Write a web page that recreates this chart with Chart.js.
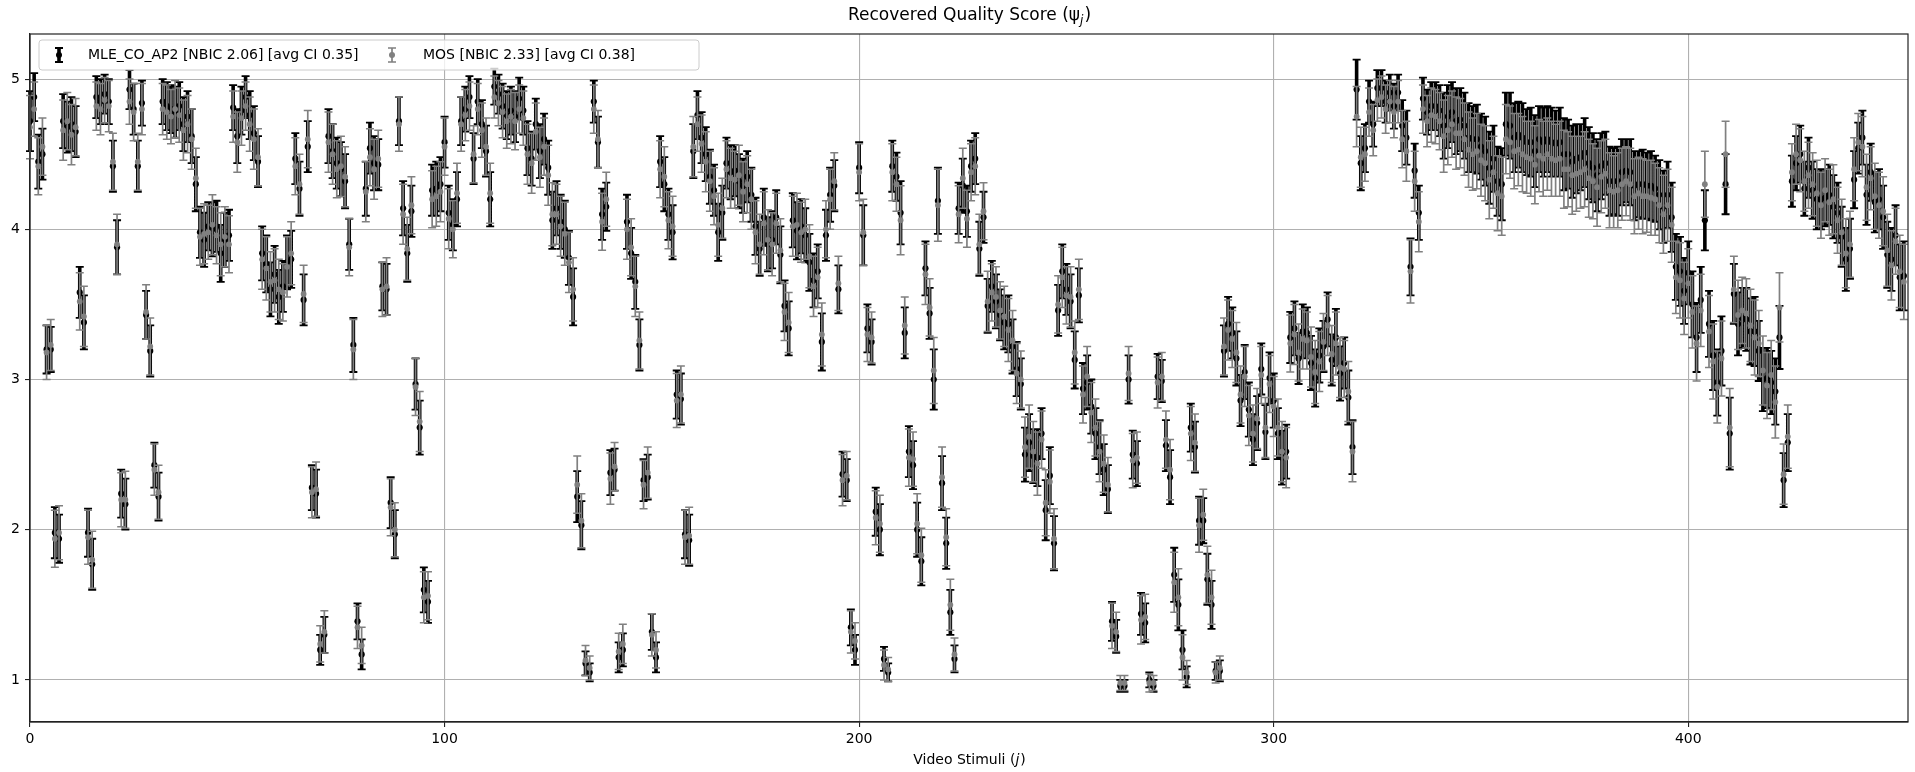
<!DOCTYPE html>
<html lang="en">
<head>
<meta charset="UTF-8">
<title>Recovered Quality Score</title>
<script src="https://cdn.jsdelivr.net/npm/chart.js"></script>
<style>
  html, body { margin: 0; padding: 0; background: #fff; }
  #wrap { width: 1915px; height: 772px; }
</style>
</head>
<body>
<div id="wrap"><canvas id="chart" width="1915" height="772"></canvas></div>
<script>
// recovered scores per video stimulus j = 0..452
const mle = [
  4.72,4.88,4.45,4.5,3.2,3.2,1.98,1.94,4.72,4.68, 4.7,4.65,3.58,3.38,1.98,1.77,4.88,4.85,4.9,4.85,
  4.42,3.88,2.24,2.17,4.93,4.8,4.42,4.84,3.43,3.19, 2.43,2.22,4.85,4.82,4.8,4.78,4.82,4.7,
  4.75,4.62,4.3,3.98,3.93,4.02,4.0,4.02,3.84,3.93, 3.96,4.81,4.62,4.79,4.88,4.76,4.64,4.45,3.84,3.77,
  3.6,3.7,3.55,3.62,3.78,3.8,4.47,4.27,3.53,4.55, 2.28,2.24,1.2,1.3,4.62,4.52,4.44,4.4,
  4.32,3.9,3.23,1.39,1.17,4.27,4.54,4.44,4.43,3.62, 3.6,2.18,1.97,4.72,4.14,3.84,4.12,2.97,2.68,1.6,
  1.52,4.26,4.27,4.3,4.58,4.11,4.03,4.2,4.72,4.8, 4.88,4.47,4.85,4.7,4.52,4.2,4.95,4.9,
  4.82,4.76,4.79,4.75,4.87,4.79,4.54,4.47,4.7,4.52, 4.6,4.41,4.06,4.14,4.05,4.0,3.81,3.55,2.22,2.03,
  1.11,1.05,4.85,4.58,4.1,4.15,2.38,2.4,1.15,1.2, 4.05,3.84,3.65,3.23,2.33,2.35,1.32,1.15,
  4.45,4.3,4.1,3.98,2.9,2.87,1.97,1.93,4.52,4.76, 4.61,4.5,4.35,4.26,3.98,4.11,4.44,4.38,4.39,4.32,
  4.29,4.35,4.23,4.02,3.87,4.08,3.9,3.93,4.08,3.83, 3.49,3.34,4.06,3.99,4.02,3.96,3.78,3.66,
  3.72,3.25,3.96,4.23,4.29,3.6,2.37,2.33,1.35,1.2, 4.41,3.96,3.34,3.25,2.12,2.0,1.14,1.05,4.42,4.35,
  4.11,3.31,2.52,2.43,2.0,1.79,3.74,3.44,3.0,4.19, 2.31,1.91,1.45,1.14,4.14,4.29,4.12,4.42,
  4.47,3.87,4.08,3.49,3.62,3.52,3.43,3.38,3.37,3.22, 3.07,2.97,2.5,2.58,2.49,2.48,2.64,2.13,2.36,1.91,
  3.46,3.72,3.6,3.52,3.13,3.56,2.94,2.98,2.82,2.64, 2.55,2.4,2.27,1.39,1.29,0.96,0.96,
  3.0,2.5,2.44,1.44,1.38,1.0,0.96,3.02,2.99,2.56, 2.35,1.7,1.5,1.2,1.02,2.68,2.55,2.06,2.06,1.67,
  1.5,1.06,1.06,3.19,3.37,3.31,3.14,2.86,3.05,2.8, 2.6,2.71,3.07,2.65,3.01,2.86,2.64,2.48,
  2.52,3.28,3.34,3.14,3.32,3.31,3.11,3.01,3.16,3.22, 3.4,3.13,3.28,3.04,3.11,2.88,2.55,4.93,4.44,4.54,
  4.85,4.7,4.94,4.94,4.85,4.91,4.82,4.91,4.69,4.61, 3.75,4.39,4.11,4.87,4.78,4.82,4.82,4.79,
  4.69,4.75,4.78,4.72,4.73,4.69,4.61,4.6,4.6,4.55, 4.52,4.41,4.47,4.32,4.3,4.7,4.69,4.61,4.63,4.61,
  4.58,4.58,4.52,4.6,4.58,4.6,4.58,4.57,4.58,4.5, 4.5,4.45,4.47,4.48,4.51,4.44,4.41,4.36,
  4.42,4.44,4.32,4.32,4.32,4.38,4.39,4.38,4.29,4.3, 4.3,4.29,4.29,4.27,4.23,4.15,4.23,4.08,3.75,3.72,
  3.59,3.71,3.5,3.28,3.53,4.06,3.37,3.16,2.98,3.19, 4.3,2.64,3.57,3.37,3.41,3.4,3.32,3.32,
  3.19,3.0,3.01,2.98,2.92,3.28,2.33,2.58,4.32,4.44, 4.5,4.27,4.41,4.26,4.2,4.2,4.21,4.23,4.15,4.11,
  3.95,3.8,3.87,4.33,4.54,4.61,4.23,4.38,4.18,4.2, 4.08,3.83,3.8,3.96,3.68,3.69
];
// half width of the confidence interval
const mleErr = [
  .20,.16,.18,.17,.16,.15,.17,.16,.18,.17, .18,.17,.17,.18,.16,.17,.14,.15,.13,.15,
  .17,.18,.16,.17,.13,.17,.17,.15,.16,.17, .15,.16,.15,.16,.16,.17,.16,.18,
  .17,.18,.18,.17,.18,.16,.18,.17,.19,.18, .17,.15,.18,.16,.14,.16,.18,.17,.18,.19,
  .18,.19,.18,.17,.18,.19,.17,.18,.17,.17, .15,.16,.10,.12,.18,.18,.17,.18,
  .18,.17,.18,.12,.10,.18,.17,.18,.17,.16, .17,.17,.16,.16,.18,.19,.17,.17,.18,.15,
  .14,.17,.18,.18,.17,.18,.17,.18,.16,.15, .14,.17,.15,.16,.17,.18,.12,.13,
  .15,.16,.16,.17,.14,.16,.18,.18,.17,.18, .17,.18,.19,.18,.18,.19,.18,.19,.17,.16,
  .08,.06,.14,.17,.17,.16,.15,.14,.10,.11, .18,.17,.18,.17,.14,.15,.12,.10,
  .17,.18,.17,.18,.16,.17,.16,.17,.18,.16, .17,.18,.18,.17,.19,.18,.17,.18,.17,.18,
  .18,.17,.18,.19,.18,.19,.18,.19,.18,.19, .17,.18,.18,.19,.18,.18,.19,.18,
  .18,.19,.17,.18,.17,.16,.15,.14,.12,.10, .17,.20,.16,.15,.16,.17,.08,.06,.17,.16,
  .21,.17,.17,.16,.18,.16,.18,.17,.20,.22, .18,.17,.15,.09,.17,.18,.17,.17,
  .17,.18,.17,.18,.17,.18,.17,.18,.19,.18, .18,.17,.18,.19,.18,.19,.17,.20,.19,.18,
  .17,.18,.17,.18,.19,.18,.17,.18,.18,.17, .18,.17,.16,.13,.11,.04,.04,
  .16,.16,.15,.14,.13,.05,.04,.15,.14,.17, .18,.18,.17,.13,.07,.16,.17,.16,.15,.17,
  .16,.06,.07,.17,.18,.17,.18,.17,.18,.18, .17,.18,.17,.18,.17,.18,.17,.18,
  .18,.17,.18,.17,.18,.17,.18,.19,.18,.17, .18,.17,.19,.18,.17,.18,.18,.20,.18,.16,
  .14,.15,.12,.12,.14,.12,.15,.12,.17,.18, .19,.18,.18,.14,.15,.16,.16,.17,
  .22,.21,.20,.22,.21,.22,.23,.22,.23,.22, .23,.24,.22,.23,.24,.21,.22,.23,.22,.23,
  .22,.23,.24,.22,.23,.22,.23,.22,.23,.24, .23,.24,.23,.22,.23,.24,.23,.24,
  .22,.21,.23,.22,.23,.22,.21,.22,.23,.22, .23,.22,.23,.22,.23,.24,.22,.23,.22,.23,
  .22,.21,.22,.23,.22,.20,.22,.23,.22,.23, .20,.24,.20,.21,.20,.21,.22,.23,
  .20,.21,.20,.21,.22,.21,.18,.19,.17,.18, .19,.18,.20,.19,.20,.20,.19,.20,.21,.20,
  .20,.21,.20,.19,.17,.18,.20,.19,.20,.20, .21,.22,.21,.20,.22,.23
];
const mos = [
  4.68,4.8,4.42,4.55,3.18,3.23,1.94,1.98,4.66,4.72, 4.63,4.68,3.52,3.42,1.95,1.8,4.82,4.8,4.86,4.82,
  4.45,3.9,2.2,2.2,4.85,4.78,4.45,4.8,3.45,3.22, 2.4,2.25,4.8,4.78,4.75,4.8,4.76,4.66,
  4.7,4.6,4.34,3.95,3.97,3.98,4.03,3.96,3.9,3.95, 3.9,4.75,4.58,4.74,4.82,4.7,4.6,4.48,3.8,3.74,
  3.65,3.66,3.6,3.58,3.75,3.84,4.42,4.3,3.57,4.6, 2.25,2.27,1.24,1.32,4.58,4.5,4.4,4.42,
  4.35,3.88,3.2,1.35,1.23,4.25,4.48,4.4,4.47,3.6, 3.62,2.15,2.0,4.7,4.1,3.87,4.16,2.95,2.72,1.55,
  1.56,4.2,4.22,4.25,4.55,4.07,4.0,4.24,4.7,4.76, 4.82,4.5,4.8,4.66,4.55,4.24,4.88,4.84,
  4.78,4.72,4.75,4.72,4.8,4.74,4.5,4.44,4.65,4.48, 4.55,4.36,4.1,4.1,4.02,3.97,3.78,3.6,2.3,2.06,
  1.13,1.08,4.8,4.6,4.05,4.2,2.34,2.42,1.19,1.24, 4.0,3.88,3.62,3.26,2.3,2.38,1.3,1.2,
  4.4,4.35,4.06,4.02,2.86,2.9,1.95,1.96,4.55,4.7, 4.57,4.45,4.32,4.22,4.03,4.14,4.4,4.34,4.33,4.36,
  4.25,4.3,4.2,3.98,3.9,4.04,3.93,3.9,4.04,3.86, 3.45,3.38,4.02,4.03,3.98,4.0,3.82,3.62,
  3.68,3.3,4.0,4.2,4.32,3.64,2.33,2.36,1.32,1.26, 4.38,3.98,3.3,3.28,2.08,2.04,1.1,1.07,4.38,4.3,
  4.06,3.36,2.48,2.47,2.04,1.83,3.7,3.48,3.06,4.16, 2.35,1.95,1.5,1.17,4.1,4.34,4.07,4.38,
  4.42,3.9,4.12,3.52,3.58,3.55,3.46,3.42,3.33,3.26, 3.04,3.0,2.55,2.62,2.52,2.44,2.6,2.18,2.32,1.94,
  3.5,3.68,3.56,3.55,3.18,3.6,2.9,3.02,2.78,2.68, 2.52,2.44,2.3,1.36,1.32,0.98,0.98,
  3.04,2.46,2.48,1.4,1.42,0.98,0.98,2.98,3.02,2.6, 2.4,1.65,1.55,1.15,1.05,2.64,2.58,2.03,2.1,1.7,
  1.55,1.05,1.08,3.22,3.33,3.27,3.18,2.9,3.02,2.76, 2.64,2.74,3.03,2.68,2.97,2.82,2.68,2.52,
  2.48,3.24,3.3,3.18,3.27,3.26,3.15,3.05,3.12,3.25, 3.36,3.17,3.24,3.08,3.07,2.92,2.52,4.75,4.48,4.5,
  4.78,4.66,4.86,4.88,4.8,4.85,4.78,4.85,4.6,4.52, 3.72,4.32,4.05,4.8,4.72,4.76,4.75,4.72,
  4.62,4.66,4.7,4.64,4.64,4.6,4.53,4.5,4.52,4.46, 4.44,4.33,4.38,4.24,4.22,4.6,4.58,4.52,4.53,4.5,
  4.48,4.47,4.43,4.49,4.47,4.5,4.47,4.46,4.47,4.4, 4.4,4.36,4.37,4.38,4.4,4.34,4.32,4.28,
  4.35,4.37,4.26,4.25,4.26,4.3,4.32,4.3,4.22,4.24, 4.22,4.22,4.21,4.2,4.16,4.1,4.16,4.03,3.68,3.66,
  3.54,3.64,3.45,3.24,3.46,4.3,3.32,3.12,2.95,3.14, 4.5,2.68,3.6,3.43,3.46,3.44,3.36,3.28,
  3.24,3.06,2.96,3.03,2.85,3.48,2.37,2.62,4.38,4.5, 4.46,4.32,4.36,4.3,4.24,4.16,4.26,4.18,4.2,4.06,
  3.98,3.84,3.9,4.4,4.58,4.55,4.28,4.34,4.22,4.16, 4.12,3.86,3.76,3.92,3.72,3.65
];
const mosErr = [
  .21,.18,.19,.19,.18,.17,.19,.18,.20,.19, .20,.19,.19,.20,.18,.19,.16,.17,.15,.17,
  .19,.20,.18,.19,.15,.19,.19,.17,.18,.19, .17,.18,.17,.18,.18,.19,.18,.20,
  .19,.20,.20,.19,.20,.18,.20,.19,.21,.20, .19,.17,.20,.18,.16,.18,.20,.19,.20,.21,
  .20,.21,.20,.19,.20,.21,.19,.20,.19,.19, .17,.18,.12,.14,.20,.20,.19,.20,
  .20,.19,.20,.14,.12,.20,.19,.20,.19,.18, .19,.19,.18,.18,.20,.21,.19,.19,.20,.17,
  .16,.19,.20,.20,.19,.20,.19,.20,.18,.17, .16,.19,.17,.18,.19,.20,.14,.15,
  .17,.18,.18,.19,.16,.18,.20,.20,.19,.20, .19,.20,.21,.20,.20,.21,.20,.21,.19,.18,
  .10,.08,.16,.19,.19,.18,.17,.16,.12,.13, .20,.19,.20,.19,.16,.17,.14,.12,
  .19,.20,.19,.20,.18,.19,.18,.19,.20,.18, .19,.20,.20,.19,.21,.20,.19,.20,.19,.20,
  .20,.19,.20,.21,.20,.21,.20,.21,.20,.21, .19,.20,.20,.21,.20,.20,.21,.20,
  .20,.21,.19,.20,.19,.18,.17,.16,.14,.12, .19,.22,.18,.17,.18,.19,.10,.08,.19,.18,
  .23,.19,.19,.18,.20,.18,.20,.19,.22,.24, .20,.19,.17,.11,.19,.20,.19,.19,
  .19,.20,.19,.20,.19,.20,.19,.20,.21,.20, .20,.19,.20,.21,.20,.21,.19,.22,.21,.20,
  .19,.20,.19,.20,.21,.20,.19,.20,.20,.19, .20,.19,.18,.15,.13,.05,.05,
  .18,.18,.17,.16,.15,.06,.05,.17,.16,.19, .20,.20,.19,.15,.08,.18,.19,.18,.17,.19,
  .18,.07,.08,.19,.20,.19,.20,.19,.20,.20, .19,.20,.19,.20,.19,.20,.19,.20,
  .20,.19,.20,.19,.20,.19,.20,.21,.20,.19, .20,.19,.21,.20,.19,.20,.20,.20,.20,.18,
  .16,.17,.14,.14,.16,.14,.17,.14,.19,.20, .21,.20,.20,.16,.17,.18,.18,.19,
  .24,.23,.22,.24,.23,.24,.25,.24,.25,.24, .25,.26,.24,.25,.26,.23,.24,.25,.24,.25,
  .24,.25,.26,.24,.25,.24,.25,.24,.25,.26, .25,.26,.25,.24,.25,.26,.25,.26,
  .24,.23,.25,.24,.25,.24,.23,.24,.25,.24, .25,.24,.25,.24,.25,.26,.24,.25,.24,.25,
  .24,.23,.24,.25,.24,.22,.24,.25,.24,.25, .22,.26,.22,.23,.22,.23,.24,.25,
  .22,.23,.22,.23,.24,.23,.20,.21,.19,.20, .21,.20,.22,.21,.22,.22,.21,.22,.23,.22,
  .22,.23,.22,.21,.19,.20,.22,.21,.22,.22, .23,.24,.23,.22,.24,.25
];
const seriesLabels = ['MLE_CO_AP2 [NBIC 2.06] [avg CI 0.35]', 'MOS [NBIC 2.33] [avg CI 0.38]'];
const xTicks = [0, 100, 200, 300, 400];
const yTicks = [1, 2, 3, 4, 5];

const FONT = '"DejaVu Sans", sans-serif';

function toPoints(vals) {
  return vals.map((v, i) => ({ x: i, y: v }));
}

// vertical CI bars with caps, drawn just before each dataset's markers
const errorBars = {
  id: 'errorBars',
  beforeDatasetDraw(chart, args) {
    const ds = chart.data.datasets[args.index];
    if (!ds.err) return;
    const ctx = chart.ctx;
    const ys = chart.scales.y;
    ctx.save();
    ctx.strokeStyle = ds.errColor;
    ctx.lineWidth = ds.errWidth;
    ctx.beginPath();
    args.meta.data.forEach((pt, i) => {
      const v = ds.data[i].y, e = ds.err[i];
      ctx.moveTo(pt.x, ys.getPixelForValue(v + e));
      ctx.lineTo(pt.x, ys.getPixelForValue(v - e));
    });
    ctx.stroke();
    ctx.lineWidth = ds.capWidth;
    ctx.beginPath();
    args.meta.data.forEach((pt, i) => {
      const v = ds.data[i].y, e = ds.err[i];
      const t = ys.getPixelForValue(v + e), b = ys.getPixelForValue(v - e);
      ctx.moveTo(pt.x - 4, t); ctx.lineTo(pt.x + 4, t);
      ctx.moveTo(pt.x - 4, b); ctx.lineTo(pt.x + 4, b);
    });
    ctx.stroke();
    ctx.restore();
  }
};

// frame, title, x label and legend in matplotlib style
const decorations = {
  id: 'decorations',
  afterDraw(chart) {
    const ctx = chart.ctx;
    const a = chart.chartArea;
    ctx.save();
    ctx.strokeStyle = '#222';
    ctx.lineWidth = 1.2;
    ctx.strokeRect(a.left, a.top, a.right - a.left, a.bottom - a.top);

    const cx = (a.left + a.right) / 2;
    ctx.fillStyle = '#000';
    ctx.textBaseline = 'middle';
    ctx.textAlign = 'left';

    // title with subscript j
    ctx.font = '17px ' + FONT;
    const t1 = 'Recovered Quality Score (\u03c8', t3 = ')';
    const w1 = ctx.measureText(t1).width, w3 = ctx.measureText(t3).width;
    ctx.font = 'italic 12px ' + FONT;
    const w2 = ctx.measureText('j').width;
    let x = cx - (w1 + w2 + w3) / 2;
    ctx.font = '17px ' + FONT;
    ctx.fillText(t1, x, 16);
    ctx.font = 'italic 12px ' + FONT;
    ctx.fillText('j', x + w1, 21);
    ctx.font = '17px ' + FONT;
    ctx.fillText(t3, x + w1 + w2 + 1, 16);

    // x axis label
    ctx.font = '14px ' + FONT;
    const l1 = 'Video Stimuli (', l3 = ')';
    const v1 = ctx.measureText(l1).width, v3 = ctx.measureText(l3).width;
    ctx.font = 'italic 14px ' + FONT;
    const v2 = ctx.measureText('j').width;
    x = cx - (v1 + v2 + v3) / 2;
    ctx.font = '14px ' + FONT;
    ctx.fillText(l1, x, 760);
    ctx.font = 'italic 14px ' + FONT;
    ctx.fillText('j', x + v1, 760);
    ctx.font = '14px ' + FONT;
    ctx.fillText(l3, x + v1 + v2 + 1, 760);

    // legend box
    const bx = a.left + 9, by = a.top + 6, bw = 660, bh = 30;
    ctx.fillStyle = 'rgba(255,255,255,0.8)';
    ctx.strokeStyle = '#cccccc';
    ctx.lineWidth = 1;
    ctx.beginPath();
    ctx.roundRect(bx, by, bw, bh, 3);
    ctx.fill();
    ctx.stroke();
    const entries = [{ gx: bx + 20, tx: bx + 49 }, { gx: bx + 353, tx: bx + 384 }];
    const my = by + bh / 2;
    chart.data.datasets.forEach((ds, i) => {
      const e = entries[i];
      ctx.strokeStyle = ds.errColor;
      ctx.lineWidth = ds.errWidth;
      ctx.beginPath();
      ctx.moveTo(e.gx, my - 7); ctx.lineTo(e.gx, my + 7);
      ctx.stroke();
      ctx.lineWidth = ds.capWidth;
      ctx.beginPath();
      ctx.moveTo(e.gx - 4, my - 7); ctx.lineTo(e.gx + 4, my - 7);
      ctx.moveTo(e.gx - 4, my + 7); ctx.lineTo(e.gx + 4, my + 7);
      ctx.stroke();
      ctx.fillStyle = ds.pointBackgroundColor;
      ctx.beginPath();
      ctx.arc(e.gx, my, 3, 0, Math.PI * 2);
      ctx.fill();
      ctx.fillStyle = '#000';
      ctx.font = '14px ' + FONT;
      ctx.fillText(ds.label, e.tx, my);
    });
    ctx.restore();
  }
};

const gridStyle = { color: '#b0b0b0', lineWidth: 1.1, tickLength: 5, tickColor: '#222' };

new Chart(document.getElementById('chart'), {
  type: 'scatter',
  data: {
    datasets: [
      {
        label: seriesLabels[0],
        data: toPoints(mle),
        err: mleErr,
        errColor: '#000000',
        errWidth: 3.6,
        capWidth: 1.8,
        pointBackgroundColor: '#000000',
        pointBorderWidth: 0,
        pointRadius: 3.1,
        order: 2
      },
      {
        label: seriesLabels[1],
        data: toPoints(mos),
        err: mosErr,
        errColor: '#808080',
        errWidth: 1.7,
        capWidth: 1.5,
        pointBackgroundColor: '#808080',
        pointBorderWidth: 0,
        pointRadius: 2.9,
        order: 1
      }
    ]
  },
  options: {
    responsive: false,
    animation: false,
    devicePixelRatio: 1,
    layout: { padding: { top: 34, right: 7, left: 0, bottom: 0 } },
    events: [],
    plugins: {
      legend: { display: false },
      title: { display: false },
      tooltip: { enabled: false }
    },
    scales: {
      x: {
        type: 'linear',
        min: 0,
        max: 453,
        afterBuildTicks: axis => { axis.ticks = xTicks.map(v => ({ value: v })); },
        afterFit: axis => { axis.height = 50; },
        grid: gridStyle,
        border: { display: true, color: '#222', width: 1.2 },
        ticks: { color: '#000', font: { family: FONT, size: 14 }, padding: 4, maxRotation: 0 }
      },
      y: {
        min: 0.72,
        max: 5.3,
        afterBuildTicks: axis => { axis.ticks = yTicks.map(v => ({ value: v })); },
        afterFit: axis => { axis.width = 30; },
        grid: gridStyle,
        border: { display: true, color: '#222', width: 1.2 },
        ticks: { color: '#000', font: { family: FONT, size: 14 }, padding: 5 }
      }
    }
  },
  plugins: [errorBars, decorations]
});
</script>
</body>
</html>
